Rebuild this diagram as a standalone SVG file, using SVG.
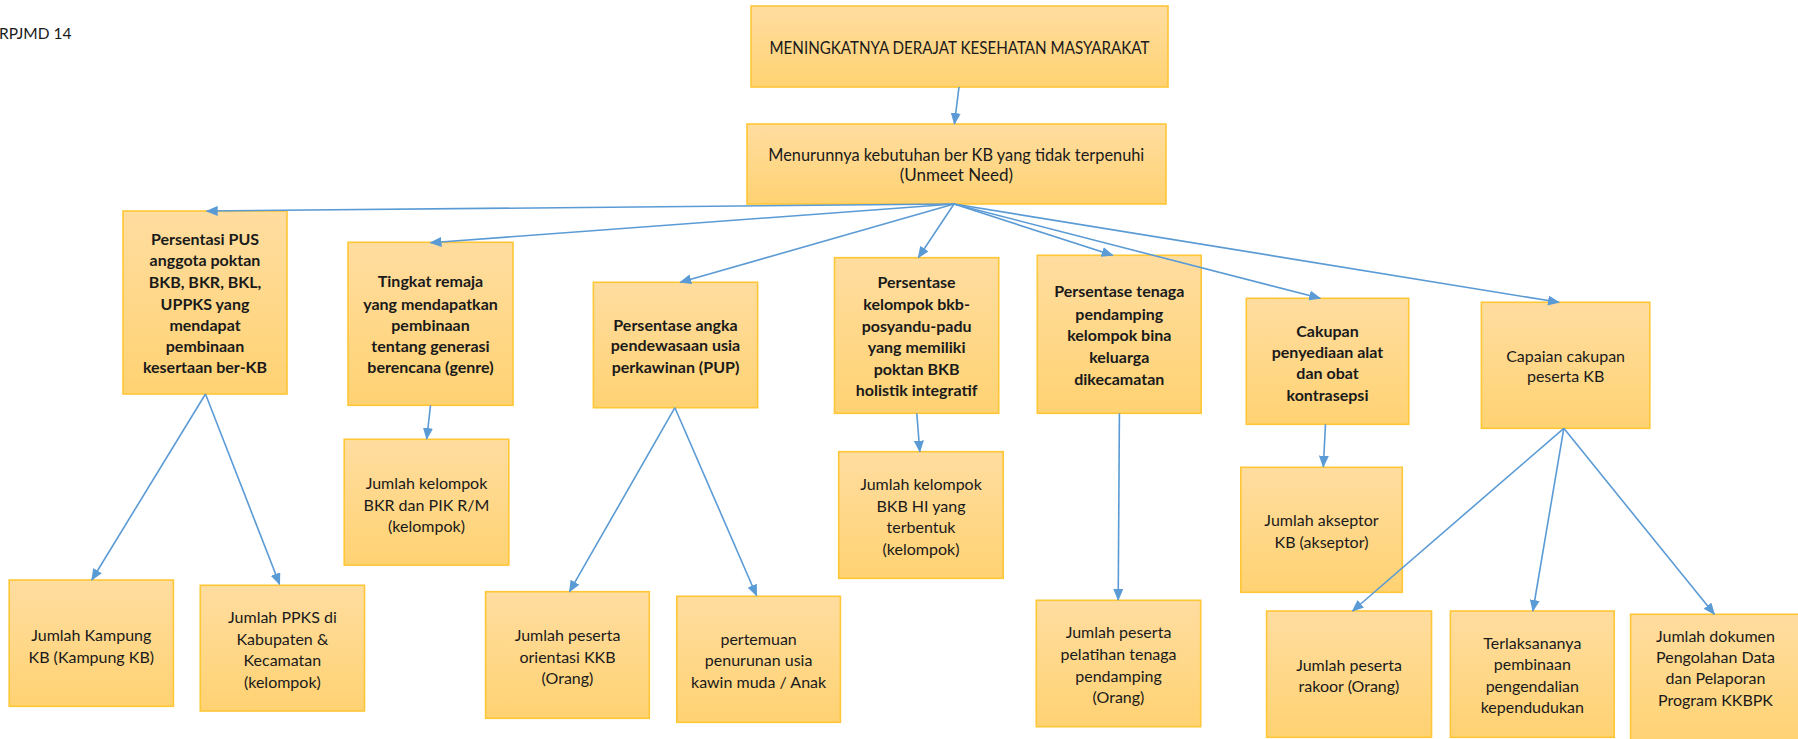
<svg xmlns="http://www.w3.org/2000/svg" width="1798" height="739" viewBox="0 0 1798 739">
<defs>
<linearGradient id="g" x1="0" y1="0" x2="0" y2="1">
<stop offset="0" stop-color="#FFDDA0"/>
<stop offset="1" stop-color="#FFD272"/>
</linearGradient>
<marker id="ah" markerUnits="userSpaceOnUse" markerWidth="12" markerHeight="10" viewBox="0 0 12 10" refX="11" refY="5" orient="auto">
<path d="M0,0 L12,5 L0,10 Z" fill="#5B9BD5"/>
</marker>
<style>
.b{fill:url(#g);stroke:#FFC636;stroke-width:1.6}
.t{font-family:Lato,"Liberation Sans",sans-serif;font-size:16px;fill:#1a1a1a;text-anchor:middle}
.tb{font-weight:bold}
.c line{stroke:#5B9BD5;stroke-width:1.6;marker-end:url(#ah)}
</style>
</defs>
<rect width="1798" height="739" fill="#ffffff"/>
<text x="-1" y="39" class="t" style="text-anchor:start;font-size:15.5px">RPJMD 14</text>

<g id="top">
<rect class="b" x="751" y="6" width="417" height="81"/>
<text class="t" x="959.5" y="54" style="font-size:16.5px" textLength="380" lengthAdjust="spacingAndGlyphs">MENINGKATNYA DERAJAT KESEHATAN MASYARAKAT</text>
</g>
<g id="unmeet">
<rect class="b" x="747" y="124" width="419" height="80"/>
<text class="t" x="956.3" y="161.2" style="font-size:17px" textLength="376" lengthAdjust="spacingAndGlyphs">Menurunnya kebutuhan ber KB yang tidak terpenuhi</text>
<text class="t" x="956.3" y="181.2" style="font-size:17px">(Unmeet Need)</text>
</g>

<g id="n1">
<rect class="b" x="123" y="211" width="164" height="183"/>
<text class="t tb" x="205" y="244.5">Persentasi PUS</text>
<text class="t tb" x="205" y="266.2">anggota poktan</text>
<text class="t tb" x="205" y="287.8">BKB, BKR, BKL,</text>
<text class="t tb" x="205" y="309.8">UPPKS yang</text>
<text class="t tb" x="205" y="330.5">mendapat</text>
<text class="t tb" x="205" y="352.2">pembinaan</text>
<text class="t tb" x="205" y="373.2">kesertaan ber-KB</text>
</g>
<g id="n2">
<rect class="b" x="348" y="242.3" width="165" height="163"/>
<text class="t tb" x="430.5" y="287.2">Tingkat remaja</text>
<text class="t tb" x="430.5" y="309.5">yang mendapatkan</text>
<text class="t tb" x="430.5" y="330.5">pembinaan</text>
<text class="t tb" x="430.5" y="352.2">tentang generasi</text>
<text class="t tb" x="430.5" y="373.2">berencana (genre)</text>
</g>
<g id="n3">
<rect class="b" x="593.4" y="282.3" width="164.2" height="125.4"/>
<text class="t tb" x="675.5" y="330.5">Persentase angka</text>
<text class="t tb" x="675.5" y="351.2">pendewasaan usia</text>
<text class="t tb" x="675.5" y="372.5">perkawinan (PUP)</text>
</g>
<g id="n4">
<rect class="b" x="834.5" y="257.7" width="164.2" height="155.6"/>
<text class="t tb" x="916.6" y="288.2">Persentase</text>
<text class="t tb" x="916.6" y="309.5">kelompok bkb-</text>
<text class="t tb" x="916.6" y="331.8">posyandu-padu</text>
<text class="t tb" x="916.6" y="353.2">yang memiliki</text>
<text class="t tb" x="916.6" y="374.5">poktan BKB</text>
<text class="t tb" x="916.6" y="395.5">holistik integratif</text>
</g>
<g id="n5">
<rect class="b" x="1037.3" y="255.3" width="163.9" height="158"/>
<text class="t tb" x="1119.3" y="297.2">Persentase tenaga</text>
<text class="t tb" x="1119.3" y="319.5">pendamping</text>
<text class="t tb" x="1119.3" y="341.2">kelompok bina</text>
<text class="t tb" x="1119.3" y="362.5">keluarga</text>
<text class="t tb" x="1119.3" y="384.5">dikecamatan</text>
</g>
<g id="n6">
<rect class="b" x="1246.3" y="298.3" width="162.4" height="126"/>
<text class="t tb" x="1327.5" y="336.5">Cakupan</text>
<text class="t tb" x="1327.5" y="357.5">penyediaan alat</text>
<text class="t tb" x="1327.5" y="379.2">dan obat</text>
<text class="t tb" x="1327.5" y="400.5">kontrasepsi</text>
</g>
<g id="n7">
<rect class="b" x="1481.4" y="302.3" width="168.4" height="126"/>
<text class="t" x="1565.6" y="361.5">Capaian cakupan</text>
<text class="t" x="1565.6" y="382.2">peserta KB</text>
</g>

<g id="c1">
<rect class="b" x="9.2" y="580" width="164.2" height="126.3"/>
<text class="t" x="91.3" y="640.5">Jumlah Kampung</text>
<text class="t" x="91.3" y="662.8">KB (Kampung KB)</text>
</g>
<g id="c2">
<rect class="b" x="200.3" y="585.3" width="164.2" height="125.7"/>
<text class="t" x="282.4" y="622.8">Jumlah PPKS di</text>
<text class="t" x="282.4" y="644.8">Kabupaten &amp;</text>
<text class="t" x="282.4" y="666.2">Kecamatan</text>
<text class="t" x="282.4" y="687.8">(kelompok)</text>
</g>
<g id="c3">
<rect class="b" x="344.2" y="439.3" width="164.6" height="125.8"/>
<text class="t" x="426.5" y="488.8">Jumlah kelompok</text>
<text class="t" x="426.5" y="510.5">BKR dan PIK R/M</text>
<text class="t" x="426.5" y="532.2">(kelompok)</text>
</g>
<g id="c4">
<rect class="b" x="485.6" y="591.7" width="163.7" height="126.6"/>
<text class="t" x="567.5" y="641.2">Jumlah peserta</text>
<text class="t" x="567.5" y="662.8">orientasi KKB</text>
<text class="t" x="567.5" y="683.8">(Orang)</text>
</g>
<g id="c5">
<rect class="b" x="676.8" y="596.3" width="163.6" height="126"/>
<text class="t" x="758.6" y="644.8">pertemuan</text>
<text class="t" x="758.6" y="666.2">penurunan usia</text>
<text class="t" x="758.6" y="687.5">kawin muda / Anak</text>
</g>
<g id="c6">
<rect class="b" x="838.7" y="451.7" width="164.5" height="126.6"/>
<text class="t" x="921" y="489.5">Jumlah kelompok</text>
<text class="t" x="921" y="511.5">BKB HI yang</text>
<text class="t" x="921" y="532.8">terbentuk</text>
<text class="t" x="921" y="554.5">(kelompok)</text>
</g>
<g id="c7">
<rect class="b" x="1036.3" y="600.3" width="164.4" height="126.4"/>
<text class="t" x="1118.5" y="637.8">Jumlah peserta</text>
<text class="t" x="1118.5" y="659.8">pelatihan tenaga</text>
<text class="t" x="1118.5" y="681.8">pendamping</text>
<text class="t" x="1118.5" y="703.2">(Orang)</text>
</g>
<g id="c8">
<rect class="b" x="1240.8" y="467.3" width="161.5" height="125"/>
<text class="t" x="1321.5" y="525.5">Jumlah akseptor</text>
<text class="t" x="1321.5" y="547.8">KB (akseptor)</text>
</g>
<g id="c9">
<rect class="b" x="1266.6" y="611" width="164.9" height="126.3"/>
<text class="t" x="1349" y="670.5">Jumlah peserta</text>
<text class="t" x="1349" y="692.2">rakoor (Orang)</text>
</g>
<g id="c10">
<rect class="b" x="1450.4" y="611" width="163.8" height="126.3"/>
<text class="t" x="1532.3" y="648.8">Terlaksananya</text>
<text class="t" x="1532.3" y="670.2">pembinaan</text>
<text class="t" x="1532.3" y="691.5">pengendalian</text>
<text class="t" x="1532.3" y="713.2">kependudukan</text>
</g>
<g id="c11">
<rect class="b" x="1630.6" y="614.3" width="180" height="130"/>
<text class="t" x="1715.5" y="641.5">Jumlah dokumen</text>
<text class="t" x="1715.5" y="662.8">Pengolahan Data</text>
<text class="t" x="1715.5" y="684.2">dan Pelaporan</text>
<text class="t" x="1715.5" y="705.5">Program KKBPK</text>
</g>

<g id="connectors" class="c">
<line x1="959" y1="87" x2="954.4" y2="124"/>
<line x1="954" y1="204" x2="206.7" y2="211"/>
<line x1="954" y1="204" x2="430.5" y2="242.7"/>
<line x1="954" y1="204" x2="680.3" y2="282.3"/>
<line x1="954" y1="204" x2="918.3" y2="257.7"/>
<line x1="954" y1="204" x2="1112.7" y2="255.3"/>
<line x1="954" y1="204" x2="1320.2" y2="298.3"/>
<line x1="954" y1="204" x2="1559" y2="302.3"/>
<line x1="205.5" y1="394" x2="91.8" y2="580"/>
<line x1="205.5" y1="394" x2="279.6" y2="584.3"/>
<line x1="430.5" y1="405.3" x2="426.7" y2="439"/>
<line x1="674.9" y1="407.7" x2="569.5" y2="591.7"/>
<line x1="674.9" y1="407.7" x2="756.6" y2="595.7"/>
<line x1="916.8" y1="413.3" x2="919.8" y2="451.7"/>
<line x1="1119.4" y1="413.3" x2="1118.2" y2="600"/>
<line x1="1325.5" y1="424.3" x2="1323.3" y2="466.7"/>
<line x1="1563.8" y1="428.3" x2="1352.5" y2="611"/>
<line x1="1563.8" y1="428.3" x2="1532.9" y2="611"/>
<line x1="1563.8" y1="428.3" x2="1714.4" y2="614.3"/>
</g>
</svg>
